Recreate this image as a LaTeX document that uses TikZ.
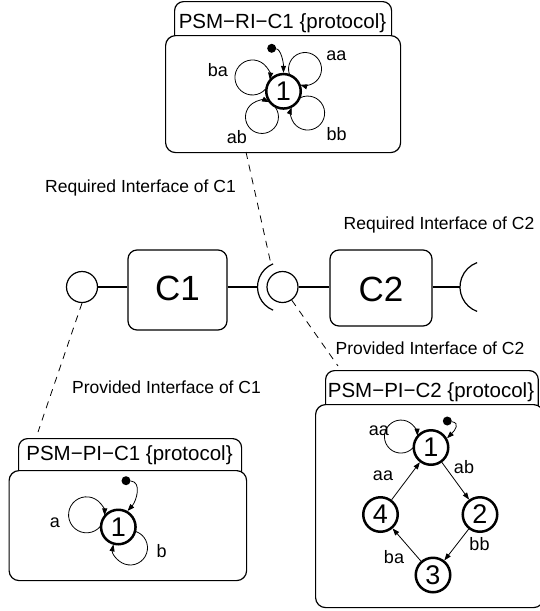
\documentclass[tikz,border=0pt]{standalone}
\usepackage{fontspec}
\setmainfont{Liberation Sans}
\usetikzlibrary{arrows.meta,calc}
\newcommand{\fsz}[1]{\fontsize{#1}{#1}\selectfont}
\newcommand{\selfloop}[4]{%
  \pgfmathsetmacro{\lpb}{acos((#3*#3+#4*#4-18*18)/(2*#3*#4))}%
  \pgfmathsetmacro{\lpa}{#2+180+\lpb}%
  \pgfmathsetmacro{\lpe}{#2+540-\lpb}%
  \draw[transarrow] ($(#1)+(#2:#3)+(\lpa:#4)$) arc[start angle=\lpa, end angle=\lpe, radius=#4];%
}
\begin{document}
\begin{tikzpicture}[x=1pt,y=-1pt,
  tabbox/.style={draw,line width=1.2pt,rounded corners=9pt,fill=white,inner sep=0pt},
  mainbox/.style={draw,line width=1.2pt,rounded corners=10pt,fill=white,inner sep=0pt},
  compbox/.style={draw,line width=1.2pt,rounded corners=9pt,inner sep=0pt},
  comptext/.style={font=\fsz{35},inner sep=0pt},
  compline/.style={line width=1.2pt},
  ifacecircle/.style={draw,circle,line width=1.2pt,minimum size=31pt,inner sep=0pt},
  statenode/.style={draw,circle,line width=2.5pt,minimum size=34.5pt,inner sep=0pt,font=\fsz{27},fill=white},
  initdot/.style={circle,fill,inner sep=0pt,minimum size=9pt},
  ifacelabel/.style={font=\fsz{17.5},inner sep=0pt,anchor=base},
  titlelabel/.style={font=\fsz{20.5},inner sep=0pt,anchor=base},
  translabel/.style={font=\fsz{18},inner sep=0pt,anchor=base},
  transarrow/.style={line width=0.8pt,-{Triangle[length=7pt,width=5pt]}},
  dashln/.style={line width=0.8pt,dash pattern=on 7pt off 6pt},
]
\useasboundingbox (0,0) rectangle (540,611);

% ---------- PSM-RI-C1 ----------
\node[tabbox, minimum width=217pt, minimum height=45pt, anchor=north west] (ritab) at (174,1) {};
\node[mainbox, minimum width=235pt, minimum height=117pt, anchor=north west] (ri) at (165,35) {};
\node[titlelabel] (rititle) at (282.5,28) {PSM−RI−C1 \{protocol\}};
\node[statenode] (s) at (283.5,91.3) {1};
\node[initdot] (si) at (271.7,48.3) {};
\draw[transarrow] (si) .. controls +(9,1) and +(0,-11) .. (s.north);
\selfloop{s}{204}{34}{17.5}
\selfloop{s}{314}{31}{16.5}
\selfloop{s}{130}{33.5}{16.5}
\selfloop{s}{42}{32.5}{17}
\node[translabel] (lba) at (217.8,76.7) {ba};
\node[translabel] (laa) at (336.3,60) {aa};
\node[translabel] (lab) at (237,143.3) {ab};
\node[translabel] (lbb) at (336.7,140) {bb};

% ---------- components ----------
\node[ifacecircle] (lc) at (82,287) {};
\node[compbox, minimum width=99pt, minimum height=80pt] (c1) at (177.5,290) {};
\node[comptext, anchor=base] (c1t) at (177.5,300) {C1};
\node[ifacecircle] (mc) at (282.5,287) {};
\node[compbox, minimum width=102pt, minimum height=76pt] (c2) at (381,288) {};
\node[comptext, anchor=base] (c2t) at (381,301) {C2};
\coordinate (msockl) at (258,287);
\coordinate (rs) at (486,287);
\coordinate (rsockl) at (460,287);
\draw[compline] (lc) -- (c1.west |- lc);
\draw[compline] (c1.east |- mc) -- (msockl);
\draw[compline] (mc) -- (c2.west |- mc);
\draw[compline] (c2.east |- rs) -- (rsockl);
\draw[compline] (mc.center) ++(112:25) arc[start angle=112,end angle=248,radius=25];
\draw[compline] (rs) ++(110:26) arc[start angle=110,end angle=250,radius=26];

\node[ifacelabel] (ric1) at (140.5,192) {Required Interface of C1};
\node[ifacelabel] (ric2) at (439,229.5) {Required Interface of C2};
\node[ifacelabel] (pic2) at (430,354.5) {Provided Interface of C2};
\node[ifacelabel] (pic1) at (166.5,393) {Provided Interface of C1};

% ---------- dashed links ----------
\coordinate (rid) at (246,152);
\coordinate (msockt) at (270.5,262);
\coordinate (pi1d) at (38,432);
\coordinate (pi2d) at (338,366);
\draw[dashln] (rid) -- (msockt);
\draw[dashln] (lc.south) -- (pi1d);
\draw[dashln] (mc) -- (pi2d);

% ---------- PSM-PI-C1 ----------
\node[tabbox, minimum width=223pt, minimum height=45pt, anchor=north west] (pi1tab) at (18,438) {};
\node[mainbox, minimum width=237.5pt, minimum height=110pt, anchor=north west] (pi1) at (8.5,470) {};
\node[titlelabel] (pi1title) at (129.5,460) {PSM−PI−C1 \{protocol\}};
\node[statenode] (q) at (118.3,527) {1};
\node[initdot] (qi) at (126,480.7) {};
\draw[transarrow] (qi) .. controls +(16,1) and +(9,-10) .. (q.60);
\selfloop{q}{201}{34}{18}
\selfloop{q}{60}{24}{17.2}
\node[translabel] (la) at (55,527.3) {a};
\node[translabel] (lb) at (161.7,557) {b};

% ---------- PSM-PI-C2 ----------
\node[tabbox, minimum width=212.7pt, minimum height=45pt, anchor=north west] (pi2tab) at (325,370) {};
\node[mainbox, minimum width=228pt, minimum height=203pt, anchor=north west] (pi2) at (315,404) {};
\node[titlelabel] (pi2title) at (431,397) {PSM−PI−C2 \{protocol\}};
\node[statenode] (p1) at (431,447.5) {1};
\node[statenode] (p2) at (480,514.5) {2};
\node[statenode] (p3) at (433,575) {3};
\node[statenode] (p4) at (380.5,514.5) {4};
\node[initdot] (pi) at (447.3,421) {};
\draw[transarrow] (pi) .. controls +(13,2) and +(8,-8) .. (p1.30);
\selfloop{p1}{200}{32}{16.5}
\draw[transarrow] (p1) -- (p2);
\draw[transarrow] (p2) -- (p3);
\draw[transarrow] (p3) -- (p4);
\draw[transarrow] (p4) -- (p1);
\node[translabel] (l2aa) at (379,435.7) {aa};
\node[translabel] (l2ab) at (464,473) {ab};
\node[translabel] (l2aa2) at (383,480) {aa};
\node[translabel] (l2bb) at (479.5,550.7) {bb};
\node[translabel] (l2ba) at (394,563) {ba};
\end{tikzpicture}
\end{document}
